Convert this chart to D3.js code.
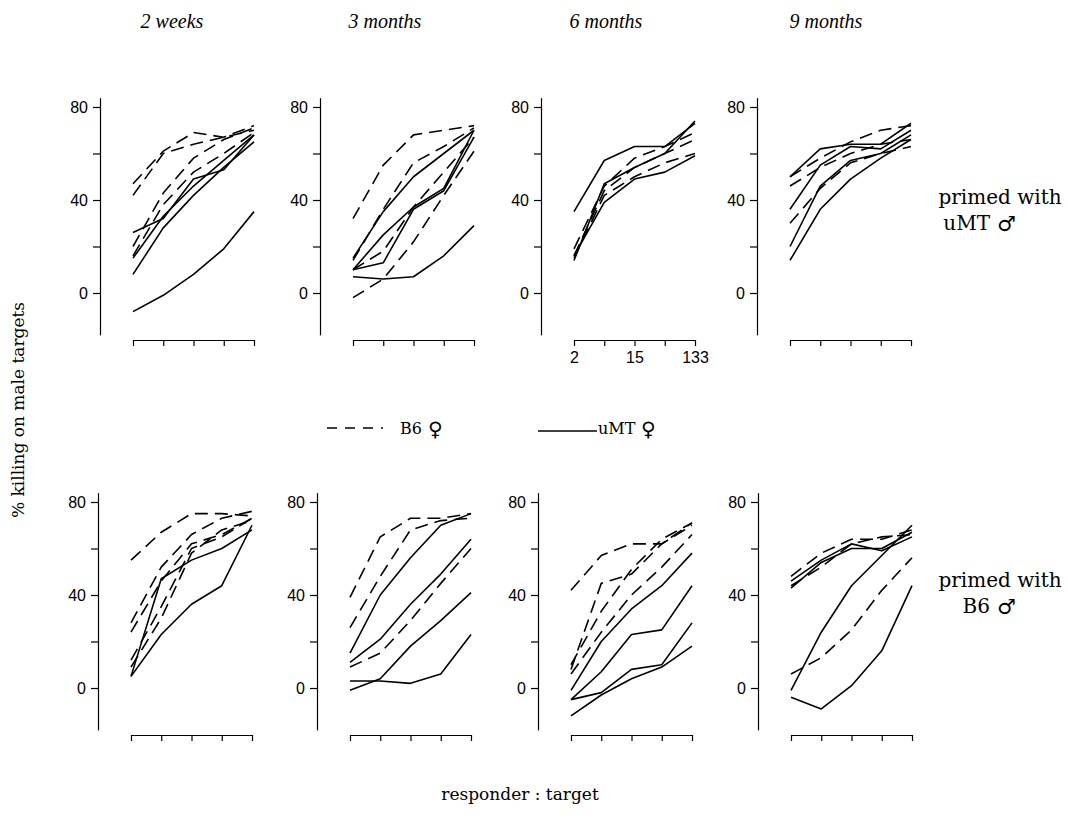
<!DOCTYPE html>
<html>
<head>
<meta charset="utf-8">
<script src="https://cdn.jsdelivr.net/npm/d3@7"></script>
<style>
  body { margin: 0; background: #fff; }
  svg { display: block; }
  .axis path, .axis line { stroke: #000; stroke-width: 1.2; }
  .axis text { font-family: "Liberation Sans", Arial, sans-serif; font-size: 16px; fill: #000; }
  .line { fill: none; stroke: #000; stroke-width: 1.6; stroke-linejoin: round; }
  .dashed { stroke-dasharray: 13, 7; }
  .serif { font-family: "DejaVu Serif", serif; fill: #000; }
  .symbol { font-family: "DejaVu Sans", sans-serif; fill: #000; }
</style>
</head>
<body>
<script>
// columns (age of responders) and responder : target ratios
let ages = ["2 weeks", "3 months", "6 months", "9 months"];
let ratios = [2, 5, 15, 44, 133];
let ratioLabels = ["2", "", "15", "", "133"];
let yTicks = [0, 20, 40, 60, 80];
let yTickLabels = ["0", "", "40", "", "80"];

// primed with uMT male -- B6 female responders (dashed)
let uMT_2w_B6 = [[47, 61, 69, 67, 72], [42, 60, 64, 67, 70], [20, 43, 58, 66, 71], [16, 38, 52, 60, 69]];
let uMT_3m_B6 = [[32, 55, 68, 70, 72], [14, 36, 56, 63, 71], [-2, 6, 22, 42, 61], [10, 18, 37, 52, 67]];
let uMT_6m_B6 = [[19, 46, 58, 63, 69], [16, 44, 54, 60, 66], [15, 42, 50, 56, 60]];
let uMT_9m_B6 = [[50, 58, 65, 70, 72], [46, 54, 60, 64, 66], [30, 45, 56, 60, 63]];
// primed with uMT male -- uMT female responders (solid)
let uMT_2w_uMT = [[-8, -1, 8, 19, 35], [8, 28, 42, 54, 65], [26, 32, 49, 53, 68], [15, 33, 46, 57, 68]];
let uMT_3m_uMT = [[15, 35, 50, 60, 70], [10, 13, 36, 44, 67], [10, 25, 37, 45, 70], [7, 6, 7, 16, 29]];
let uMT_6m_uMT = [[35, 57, 63, 63, 73], [14, 47, 54, 60, 74], [16, 39, 49, 52, 59]];
let uMT_9m_uMT = [[50, 62, 64, 64, 73], [36, 55, 63, 62, 70], [20, 46, 57, 60, 68], [14, 36, 49, 58, 66]];

// primed with B6 male -- B6 female responders (dashed)
let B6_2w_B6 = [[55, 67, 75, 75, 74], [28, 52, 66, 73, 76], [24, 46, 62, 66, 73], [12, 35, 60, 65, 73], [9, 30, 58, 68, 72]];
let B6_3m_B6 = [[39, 65, 73, 73, 75], [26, 48, 68, 72, 73], [9, 15, 29, 45, 60]];
let B6_6m_B6 = [[42, 57, 62, 62, 71], [8, 45, 49, 62, 70], [10, 33, 51, 64, 71], [6, 24, 40, 52, 66]];
let B6_9m_B6 = [[48, 58, 64, 64, 68], [44, 52, 62, 65, 66], [6, 13, 25, 42, 56]];
// primed with B6 male -- uMT female responders (solid)
let B6_2w_uMT = [[5, 47, 55, 60, 68], [5, 23, 36, 44, 70]];
let B6_3m_uMT = [[15, 40, 56, 70, 75], [11, 21, 36, 49, 64], [-1, 4, 18, 29, 41], [3, 3, 2, 6, 23]];
let B6_6m_uMT = [[-1, 20, 34, 44, 58], [-5, 7, 23, 25, 44], [-5, -2, 8, 10, 28], [-12, -3, 4, 9, 18]];
let B6_9m_uMT = [[46, 55, 62, 59, 65], [43, 54, 60, 60, 67], [-1, 24, 44, 57, 70], [-4, -9, 1, 16, 44]];

let rows = [
  { b6: [uMT_2w_B6, uMT_3m_B6, uMT_6m_B6, uMT_9m_B6],
    umt: [uMT_2w_uMT, uMT_3m_uMT, uMT_6m_uMT, uMT_9m_uMT],
    label: ["primed with", "uMT"] },
  { b6: [B6_2w_B6, B6_3m_B6, B6_6m_B6, B6_9m_B6],
    umt: [B6_2w_uMT, B6_3m_uMT, B6_6m_uMT, B6_9m_uMT],
    label: ["primed with", "B6"] }
];

let svgWidth = 1068;
let svgHeight = 818;

let svg = d3.select("body")
  .append("svg")
  .attr("width", svgWidth)
  .attr("height", svgHeight);

// layout of the 2 x 4 grid
let panelLeft = [[133, 353, 574, 790], [131, 350, 571, 791]];
let panelWidth = 121;
let zeroY = [293, 688];      // pixel position of 0 % in each row
let pxPerUnit = 2.325;
let xAxisY = [340, 735];
let titleX = [172, 385, 606, 826];

rows.forEach(function (row, r) {
  let y = d3.scaleLinear()
    .domain([-18, 84])
    .range([zeroY[r] + 18 * pxPerUnit, zeroY[r] - 84 * pxPerUnit]);

  ages.forEach(function (age, c) {
    let x0 = panelLeft[r][c];
    let x = d3.scalePoint()
      .domain(ratios)
      .range([x0, x0 + panelWidth]);

    let g = svg.append("g");

    // left axis, offset from the data
    g.append("g")
      .classed("axis", true)
      .attr("transform", `translate(${x0 - 33}, 0)`)
      .call(d3.axisLeft(y).tickValues(yTicks).tickSize(7).tickSizeOuter(0)
        .tickFormat((d, i) => yTickLabels[i]))
      .selectAll("text").attr("dx", "-2");

    // bottom axis, only the middle top panel carries labels
    let showLabels = (r == 0 && c == 2);
    g.append("g")
      .classed("axis", true)
      .attr("transform", `translate(0, ${xAxisY[r]})`)
      .call(d3.axisBottom(x).tickSize(6).tickSizeOuter(0)
        .tickFormat((d, i) => showLabels ? ratioLabels[i] : ""))
      .selectAll("text").attr("dy", "0.9em");

    let line = d3.line()
      .x((d, i) => x(ratios[i]))
      .y(d => y(d));

    g.selectAll(".b6line")
      .data(row.b6[c])
      .enter()
      .append("path")
      .attr("class", "line dashed b6line")
      .attr("d", d => line(d));

    g.selectAll(".umtline")
      .data(row.umt[c])
      .enter()
      .append("path")
      .attr("class", "line umtline")
      .attr("d", d => line(d));

    // column titles
    if (r == 0) {
      svg.append("text")
        .attr("x", titleX[c])
        .attr("y", 28)
        .attr("text-anchor", "middle")
        .style("font-family", "'Liberation Serif', serif")
        .style("font-style", "italic")
        .style("font-size", "20px")
        .text(age);
    }
  });

  // row label on the right
  let labelY = [204, 587][r];
  svg.append("text")
    .classed("serif", true)
    .attr("x", 1000)
    .attr("y", labelY)
    .attr("text-anchor", "middle")
    .style("font-size", "20px")
    .text(row.label[0]);
  svg.append("text")
    .classed("serif", true)
    .attr("x", 990)
    .attr("y", labelY + 26)
    .attr("text-anchor", "end")
    .style("font-size", "20px")
    .text(row.label[1]);
  svg.append("text")
    .classed("symbol", true)
    .attr("x", 997)
    .attr("y", labelY + 27)
    .style("font-size", "21px")
    .text("\u2642");
});

// legend
let legend = svg.append("g");
legend.append("line")
  .attr("class", "line dashed")
  .attr("x1", 327).attr("x2", 383)
  .attr("y1", 428).attr("y2", 428)
  .style("stroke-dasharray", "10, 8");
legend.append("text")
  .classed("serif", true)
  .attr("x", 400).attr("y", 434)
  .style("font-size", "16px")
  .text("B6");
legend.append("text")
  .classed("symbol", true)
  .attr("x", 428).attr("y", 436)
  .style("font-size", "20px")
  .text("\u2640");

legend.append("line")
  .attr("class", "line")
  .attr("x1", 538).attr("x2", 597)
  .attr("y1", 431).attr("y2", 431);
legend.append("text")
  .classed("serif", true)
  .attr("x", 598).attr("y", 434)
  .style("font-size", "16px")
  .text("uMT");
legend.append("text")
  .classed("symbol", true)
  .attr("x", 641).attr("y", 436)
  .style("font-size", "20px")
  .text("\u2640");

// axis titles
svg.append("text")
  .classed("serif", true)
  .attr("transform", "translate(24, 410) rotate(-90)")
  .attr("text-anchor", "middle")
  .style("font-size", "17px")
  .text("% killing on male targets");

svg.append("text")
  .classed("serif", true)
  .attr("x", 520)
  .attr("y", 800)
  .attr("text-anchor", "middle")
  .style("font-size", "17px")
  .text("responder : target");
</script>
</body>
</html>
